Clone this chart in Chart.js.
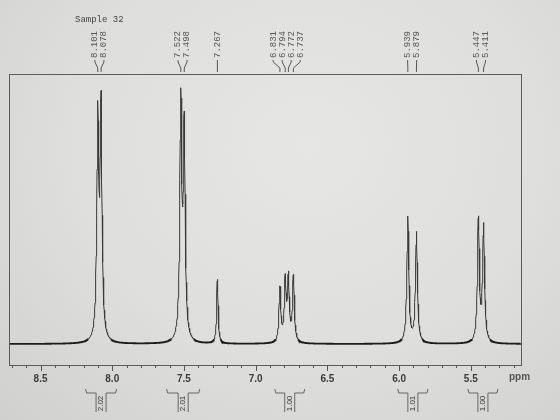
<!DOCTYPE html>
<html>
<head>
<meta charset="utf-8">
<script src="https://cdn.jsdelivr.net/npm/chart.js@4"></script>
<style>
  html, body { margin: 0; padding: 0; }
  body {
    width: 560px; height: 420px; overflow: hidden;
    background: radial-gradient(ellipse at 55% 35%, #e6e6e4 0%, #dededc 55%, #d0d0ce 100%);
  }
  canvas { display: block; }
</style>
</head>
<body>
<canvas id="nmr" width="560" height="420"></canvas>
<script>
// --- spectrum data ---
const peakPpm    = [8.101, 8.078, 7.522, 7.498, 7.267, 6.831, 6.794, 6.772, 6.737, 5.939, 5.879, 5.447, 5.411];
const peakHeight = [85.4, 89.8, 91.9, 81.8, 25.0, 21.2, 23.6, 24.6, 25.6, 49.2, 43.1, 47.9, 45.2];
const peakWidth  = [0.008, 0.008, 0.008, 0.008, 0.006, 0.0075, 0.0075, 0.0075, 0.0075, 0.008, 0.008, 0.008, 0.008];

const integralFrom  = [8.186, 7.621, 6.867, 6.009, 5.520];
const integralTo    = [7.970, 7.390, 6.658, 5.799, 5.311];
const integralValue = ['2.02', '2.01', '1.00', '1.01', '1.00'];

const majorTicks = [8.5, 8.0, 7.5, 7.0, 6.5, 6.0, 5.5];
const minorTicks = [8.7, 8.6, 8.4, 8.3, 8.2, 8.1, 7.9, 7.8, 7.7, 7.6, 7.4, 7.3, 7.2, 7.1,
                    6.9, 6.8, 6.7, 6.6, 6.4, 6.3, 6.2, 6.1, 5.9, 5.8, 5.7, 5.6, 5.4, 5.3, 5.2];

const ppmMax = 8.72, ppmMin = 5.15;

// build the trace from the peak list (lorentzian lines)
const xs = [];
for (let x = ppmMax; x >= ppmMin; x -= 0.002) xs.push(x);
peakPpm.forEach(p => xs.push(p));
xs.sort((a, b) => b - a);
const trace = xs.map(x => {
  let y = 0;
  peakPpm.forEach((p, i) => {
    const d = (x - p) / peakWidth[i];
    y += peakHeight[i] / (1 + d * d);
  });
  return { x, y };
});

// spread the peak labels so they don't collide
function spreadLabels(xs, gap) {
  let groups = xs.map(x => ({ xs: [x] }));
  const place = g => {
    const c = g.xs.reduce((a, b) => a + b, 0) / g.xs.length;
    return g.xs.map((_, i) => c + (i - (g.xs.length - 1) / 2) * gap);
  };
  let merged = true;
  while (merged) {
    merged = false;
    for (let i = 0; i < groups.length - 1; i++) {
      const a = place(groups[i]), b = place(groups[i + 1]);
      if (a[a.length - 1] > b[0] - gap) {
        groups[i] = { xs: groups[i].xs.concat(groups[i + 1].xs) };
        groups.splice(i + 1, 1);
        merged = true;
        break;
      }
    }
  }
  return groups.flatMap(place);
}

const decorations = {
  id: 'decorations',
  afterDraw(chart) {
    const { ctx, chartArea: a, scales } = chart;
    const px = v => scales.x.getPixelForValue(v);
    ctx.save();

    // frame
    ctx.strokeStyle = '#5c5c5c';
    ctx.lineWidth = 1;
    ctx.strokeRect(a.left + 0.5, a.top + 0.5, a.right - a.left, a.bottom - a.top);

    // axis ticks + labels
    ctx.strokeStyle = '#555';
    ctx.beginPath();
    minorTicks.forEach(t => {
      const x = Math.round(px(t)) + 0.5;
      ctx.moveTo(x, a.bottom); ctx.lineTo(x, a.bottom + 3);
    });
    majorTicks.forEach(t => {
      const x = Math.round(px(t)) + 0.5;
      ctx.moveTo(x, a.bottom); ctx.lineTo(x, a.bottom + 6);
    });
    ctx.stroke();

    ctx.fillStyle = '#3c3c3c';
    ctx.font = 'bold 10px "Liberation Sans", Arial, sans-serif';
    ctx.textAlign = 'center';
    ctx.textBaseline = 'middle';
    majorTicks.forEach(t => ctx.fillText(t.toFixed(1), px(t), a.bottom + 14));

    ctx.fillStyle = '#555';
    ctx.textAlign = 'left';
    ctx.fillText('ppm', 509, a.bottom + 12);

    // title
    ctx.fillStyle = '#444';
    ctx.font = '9px "Liberation Mono", "DejaVu Sans Mono", monospace';
    ctx.textBaseline = 'alphabetic';
    ctx.fillText('Sample 32', 75, 22);

    // peak labels with connectors
    const sorted = peakPpm.slice().sort((p, q) => q - p);
    const peakX = sorted.map(px);
    const labelX = spreadLabels(peakX, 9);
    ctx.strokeStyle = '#555';
    ctx.beginPath();
    sorted.forEach((p, i) => {
      ctx.moveTo(labelX[i], a.top - 14);
      ctx.lineTo(labelX[i], a.top - 12);
      ctx.lineTo(peakX[i], a.top - 6);
      ctx.lineTo(peakX[i], a.top - 2);
    });
    ctx.stroke();
    ctx.fillStyle = '#555';
    ctx.textBaseline = 'middle';
    sorted.forEach((p, i) => {
      ctx.save();
      ctx.translate(labelX[i], a.top - 16);
      ctx.rotate(-Math.PI / 2);
      ctx.fillText(p.toFixed(3), 0, 0);
      ctx.restore();
    });

    // integrals
    const y0 = a.bottom + 24, y1 = a.bottom + 28, y2 = a.bottom + 47;
    ctx.strokeStyle = '#666';
    ctx.beginPath();
    integralFrom.forEach((f, i) => {
      const x0 = px(f), x1 = px(integralTo[i]), cx = (x0 + x1) / 2;
      ctx.moveTo(x0, y0); ctx.lineTo(x0 + 1, y1); ctx.lineTo(cx - 5, y1); ctx.lineTo(cx - 5, y2);
      ctx.moveTo(x1, y0); ctx.lineTo(x1 - 1, y1); ctx.lineTo(cx + 5, y1); ctx.lineTo(cx + 5, y2);
    });
    ctx.stroke();
    ctx.fillStyle = '#333';
    ctx.font = '8px "Liberation Sans", Arial, sans-serif';
    ctx.textAlign = 'center';
    integralFrom.forEach((f, i) => {
      const cx = (px(f) + px(integralTo[i])) / 2;
      ctx.save();
      ctx.translate(cx, (y1 + y2) / 2 + 1);
      ctx.rotate(-Math.PI / 2);
      ctx.fillText(integralValue[i], 0, 0);
      ctx.restore();
    });

    ctx.restore();
  }
};

const isBase = c => c.p0.parsed.y < 2 && c.p1.parsed.y < 2;

new Chart(document.getElementById('nmr'), {
  type: 'line',
  data: {
    datasets: [{
      data: trace,
      borderColor: '#333',
      borderWidth: 1,
      pointRadius: 0,
      tension: 0,
      fill: false,
      segment: {
        borderWidth: c => isBase(c) ? 1.8 : 1,
        borderColor: c => isBase(c) ? '#1c1c1c' : '#3a3a3a',
      }
    }]
  },
  options: {
    responsive: false,
    animation: false,
    parsing: false,
    layout: { padding: { left: 9, right: 39, top: 74, bottom: 55 } },
    plugins: { legend: { display: false }, tooltip: { enabled: false } },
    scales: {
      x: { type: 'linear', reverse: true, min: ppmMin, max: ppmMax, display: false },
      y: { min: -8.2, max: 105.5, display: false }
    }
  },
  plugins: [decorations]
});
</script>
</body>
</html>
